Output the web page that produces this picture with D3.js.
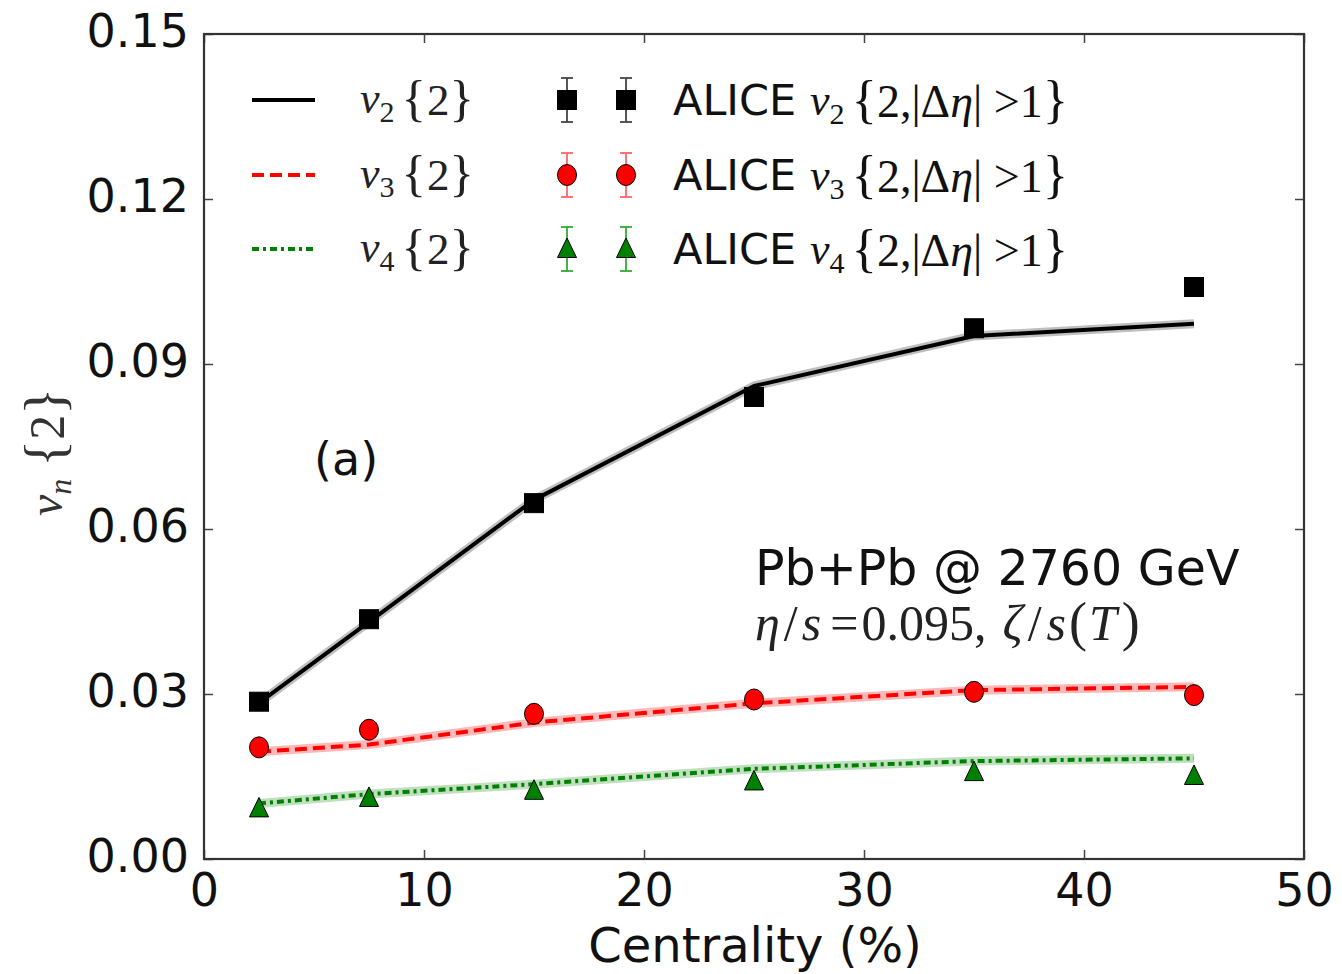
<!DOCTYPE html>
<html><head><meta charset="utf-8">
<script src="https://cdn.jsdelivr.net/npm/d3@7"></script>
<style>
html,body{margin:0;padding:0;background:#fff;}
svg{display:block;}
</style></head>
<body>
<svg id="chart" width="1342" height="974"></svg>
<script>
// ---- data ----
const centrality = [2.5, 7.5, 15, 25, 35, 45];
const modelV2 = [0.0284, 0.0431, 0.0653, 0.0860, 0.0951, 0.0973];
const modelV3 = [0.0195, 0.0208, 0.0248, 0.0283, 0.0307, 0.0313];
const modelV4 = [0.0101, 0.0118, 0.0136, 0.0164, 0.0178, 0.0183];
const aliceV2 = [0.0286, 0.0436, 0.0647, 0.0840, 0.0965, 0.1040];
const aliceV3 = [0.0203, 0.0235, 0.0264, 0.0290, 0.0304, 0.0298];
const aliceV4 = [0.0092, 0.0111, 0.0124, 0.0141, 0.0158, 0.0151];
const xTicks = [0, 10, 20, 30, 40, 50];
const yTicks = [0.00, 0.03, 0.06, 0.09, 0.12, 0.15];
const seriesNames = ["2", "3", "4"];

const svg = d3.select("#chart");
const L = 204, R = 1304, T = 34, B = 859;
const x = d3.scaleLinear().domain([0, 50]).range([L, R]);
const y = d3.scaleLinear().domain([0, 0.15]).range([B, T]);

const sans = "'DejaVu Sans', sans-serif";
const serif = "'Liberation Serif', 'DejaVu Serif', serif";

// axes
const fmt = d3.format(".2f");
const gx = svg.append("g").attr("transform", `translate(0,${B})`)
  .call(d3.axisBottom(x).tickValues(xTicks).tickSizeInner(-9).tickSizeOuter(0).tickPadding(14).tickFormat(d3.format("d")));
const gxt = svg.append("g").attr("transform", `translate(0,${T})`)
  .call(d3.axisTop(x).tickValues(xTicks).tickSizeInner(-9).tickSizeOuter(0).tickFormat(""));
const gy = svg.append("g").attr("transform", `translate(${L},0)`)
  .call(d3.axisLeft(y).tickValues(yTicks).tickSizeInner(-9).tickSizeOuter(0).tickPadding(15).tickFormat(fmt));
const gyr = svg.append("g").attr("transform", `translate(${R},0)`)
  .call(d3.axisRight(y).tickValues(yTicks).tickSizeInner(-9).tickSizeOuter(0).tickFormat(""));
[gx, gxt, gy, gyr].forEach(g => {
  g.select(".domain").remove();
  g.selectAll(".tick line").attr("stroke", "#444").attr("stroke-width", 1.5);
  g.selectAll(".tick text").attr("font-family", sans).attr("font-size", 46).attr("fill", "#111");
});
gy.selectAll(".tick text").attr("dy", "0.28em");

// frame
svg.append("rect").attr("x", L).attr("y", T).attr("width", R - L).attr("height", B - T)
  .attr("fill", "none").attr("stroke", "#333").attr("stroke-width", 2.2);

// model lines
const line = d3.line().x((d, i) => x(centrality[i])).y(d => y(d));
const models = [
  {vals: modelV2, color: "#000", band: "rgba(0,0,0,0.25)", dash: null},
  {vals: modelV3, color: "#ff0000", band: "rgba(255,0,0,0.28)", dash: "12,6"},
  {vals: modelV4, color: "#008000", band: "rgba(0,128,0,0.25)", dash: "7,4,3,4"}
];
models.forEach(m => {
  svg.append("path").attr("d", line(m.vals)).attr("fill", "none")
    .attr("stroke", m.band).attr("stroke-width", 9).attr("stroke-linejoin", "round");
  svg.append("path").attr("d", line(m.vals)).attr("fill", "none")
    .attr("stroke", m.color).attr("stroke-width", 4).attr("stroke-dasharray", m.dash)
    .attr("stroke-linejoin", "round");
});

// markers
function marker(g, type, cx, cy, fill) {
  if (type === "sq") {
    g.append("rect").attr("x", cx - 9.5).attr("y", cy - 9.5).attr("width", 19).attr("height", 19)
      .attr("fill", fill).attr("stroke", "#000").attr("stroke-width", 1);
  } else if (type === "ci") {
    g.append("ellipse").attr("cx", cx).attr("cy", cy).attr("rx", 9.5).attr("ry", 10.5)
      .attr("fill", fill).attr("stroke", "#000").attr("stroke-width", 1);
  } else {
    g.append("path").attr("d", `M${cx},${cy - 11}L${cx + 9.5},${cy + 8.5}L${cx - 9.5},${cy + 8.5}Z`)
      .attr("fill", fill).attr("stroke", "#000").attr("stroke-width", 1);
  }
}
const data = [
  {vals: aliceV2, type: "sq", fill: "#000", err: "#444"},
  {vals: aliceV3, type: "ci", fill: "#ff0000", err: "#ff6666"},
  {vals: aliceV4, type: "tr", fill: "#008000", err: "#33aa33"}
];
const gm = svg.append("g");
data.forEach(s => s.vals.forEach((v, i) => marker(gm, s.type, x(centrality[i]), y(v), s.fill)));

// legend
const rows = [100, 175, 249];
const lg = svg.append("g");
rows.forEach((ry, k) => {
  const m = models[k];
  lg.append("line").attr("x1", 252).attr("x2", 315).attr("y1", ry).attr("y2", ry)
    .attr("stroke", m.color).attr("stroke-width", 4).attr("stroke-dasharray", m.dash);
  const t = lg.append("text").attr("x", 360).attr("y", ry + 13).attr("font-family", serif)
    .attr("font-size", 44).attr("fill", "#222");
  t.append("tspan").attr("font-style", "italic").text("v");
  t.append("tspan").attr("font-size", 30).attr("dy", 9).text(seriesNames[k]);
  t.append("tspan").attr("font-size", 51).attr("dx", 7).attr("dy", -7).text("{");
  t.append("tspan").attr("font-size", 45).attr("dx", 1).text("2");
  t.append("tspan").attr("font-size", 51).attr("dx", 0).text("}");
  const s = data[k];
  [567, 626].forEach(cx => {
    lg.append("line").attr("x1", cx).attr("x2", cx).attr("y1", ry - 22).attr("y2", ry + 22)
      .attr("stroke", s.err).attr("stroke-width", 1.8);
    [ry - 22, ry + 22].forEach(cy => lg.append("line").attr("x1", cx - 6).attr("x2", cx + 6)
      .attr("y1", cy).attr("y2", cy).attr("stroke", s.err).attr("stroke-width", 1.8));
    marker(lg, s.type, cx, ry, s.fill);
  });
  const a = lg.append("text").attr("x", 673).attr("y", ry + 15).attr("font-size", 44).attr("fill", "#111");
  a.append("tspan").attr("font-family", sans).attr("font-size", 43).text("ALICE ");
  a.append("tspan").attr("font-family", serif).attr("font-style", "italic").text("v");
  a.append("tspan").attr("font-family", serif).attr("font-size", 30).attr("dy", 9).text(seriesNames[k]);
  a.append("tspan").attr("font-family", serif).attr("font-size", 53).attr("dx", 7).attr("dy", -7).text("{");
  a.append("tspan").attr("font-family", serif).attr("font-size", 46).text("2,|Δ");
  a.append("tspan").attr("font-family", serif).attr("font-size", 46).attr("font-style", "italic").text("η");
  a.append("tspan").attr("font-family", serif).attr("font-size", 46).text("| >1");
  a.append("tspan").attr("font-family", serif).attr("font-size", 53).text("}");
});

// annotations
svg.append("text").attr("x", 314).attr("y", 475).attr("font-family", sans).attr("font-size", 46)
  .attr("fill", "#111").text("(a)");
svg.append("text").attr("x", 755).attr("y", 585).attr("font-family", sans).attr("font-size", 49)
  .attr("fill", "#111").text("Pb+Pb @ 2760 GeV");
const ann = svg.append("text").attr("x", 755).attr("y", 640).attr("font-family", serif)
  .attr("font-size", 50).attr("fill", "#222");
ann.append("tspan").attr("font-style", "italic").text("η");
ann.append("tspan").attr("dx", 4).text("/");
ann.append("tspan").attr("font-style", "italic").attr("dx", 4).text("s");
ann.append("tspan").attr("dx", 9).text("=");
ann.append("tspan").attr("dx", 3).text("0.095,");
ann.append("tspan").attr("font-style", "italic").attr("dx", 16).text("ζ");
ann.append("tspan").attr("dx", 5).text("/");
ann.append("tspan").attr("font-style", "italic").attr("dx", 5).text("s");
ann.append("tspan").attr("font-size", 54).attr("dx", 3).text("(");
ann.append("tspan").attr("font-style", "italic").attr("dx", 2).text("T");
ann.append("tspan").attr("font-size", 54).attr("dx", 5).text(")");

// axis titles
svg.append("text").attr("x", 755).attr("y", 962).attr("text-anchor", "middle")
  .attr("font-family", sans).attr("font-size", 48).attr("fill", "#111").text("Centrality (%)");
const yl = svg.append("text").attr("transform", "translate(62,452) rotate(-90)")
  .attr("text-anchor", "middle").attr("font-family", serif).attr("font-size", 48).attr("fill", "#333");
yl.append("tspan").attr("font-style", "italic").text("v");
yl.append("tspan").attr("font-style", "italic").attr("font-size", 32).attr("dy", 9).text("n");
yl.append("tspan").attr("font-size", 56).attr("dy", -7).attr("dx", 12).text("{");
yl.append("tspan").attr("font-size", 50).text("2");
yl.append("tspan").attr("font-size", 56).text("}");
</script>
</body></html>
